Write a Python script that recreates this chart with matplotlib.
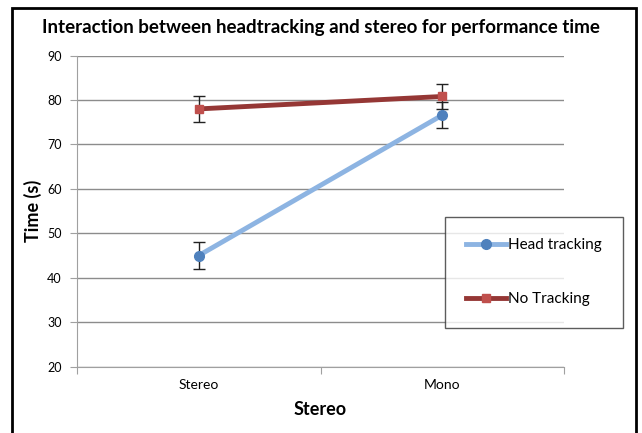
import matplotlib.pyplot as plt
import numpy as np
from matplotlib.patches import Rectangle
from matplotlib.lines import Line2D

plt.rcParams['font.family'] = ['Lato', 'DejaVu Sans']

# data
conditions = ['Stereo', 'Mono']
head_tracking = [45.0, 76.6]
head_err = [3.0, 3.0]
no_tracking = [78.0, 80.8]
no_err = [3.0, 2.9]

fig = plt.figure(figsize=(6.42, 4.33), dpi=100)
ax = fig.add_axes([77/642, 1-366.6/433, (564-77)/642, (366.6-55.6)/433])

x = np.arange(len(conditions)) + 0.5

ax.errorbar(x, head_tracking, yerr=head_err, color='#8db4e2', lw=3.5,
            marker='o', ms=7, mfc='#4f81bd', mec='#4f81bd',
            ecolor='#222222', elinewidth=1, capsize=4, capthick=1, zorder=3)
ax.errorbar(x, no_tracking, yerr=no_err, color='#953735', lw=3.5,
            marker='s', ms=6, mfc='#c0504d', mec='#c0504d',
            ecolor='#222222', elinewidth=1, capsize=4, capthick=1, zorder=3)

ax.set_xlim(0, len(conditions))
ax.set_ylim(20, 90)
ax.set_yticks(np.arange(20, 91, 10))
ax.set_xticks(np.arange(0, len(conditions) + 1))
ax.set_xticklabels([])
ax.set_xticks(x, minor=True)
ax.set_xticklabels(conditions, minor=True)
ax.tick_params(axis='x', which='minor', length=0, pad=9, labelsize=10)
ax.tick_params(axis='x', which='major', length=5, color='#a0a0a0')
ax.tick_params(axis='y', length=5, color='#a0a0a0', labelsize=9, pad=6)

ax.yaxis.grid(True, color='#8c8c8c', lw=1)
ax.set_axisbelow(True)
for s in ['top', 'right']:
    ax.spines[s].set_visible(False)
for s in ['left', 'bottom']:
    ax.spines[s].set_color('#a0a0a0')

ax.set_ylabel('Time (s)', fontsize=13, fontweight='bold', labelpad=4)
ax.set_xlabel('Stereo', fontsize=13, fontweight='bold', labelpad=7)

fig.text(0.5, 1-27/433, 'Interaction between headtracking and stereo for performance time',
         ha='center', va='center', fontsize=13.5, fontweight='bold')

handles = [
    Line2D([], [], color='#8db4e2', lw=3.5, marker='o', ms=7,
           mfc='#4f81bd', mec='#4f81bd'),
    Line2D([], [], color='#953735', lw=3.5, marker='s', ms=6,
           mfc='#c0504d', mec='#c0504d'),
]
leg = fig.legend(handles, ['Head tracking', 'No Tracking'],
                 loc='upper left', bbox_to_anchor=(445/642, 1-217/433),
                 frameon=True, fancybox=False, fontsize=11, labelspacing=2.6,
                 borderpad=1.4, handlelength=2.6, handletextpad=0.1,
                 borderaxespad=0)
leg.get_frame().set_edgecolor('#333333')
leg.get_frame().set_linewidth(1)

fig.add_artist(Rectangle((12/642, -0.05), (636-12)/642, 1.05 - 8/433,
                         transform=fig.transFigure, fill=False,
                         edgecolor='black', lw=2))

fig.savefig('out.png', dpi=100)
